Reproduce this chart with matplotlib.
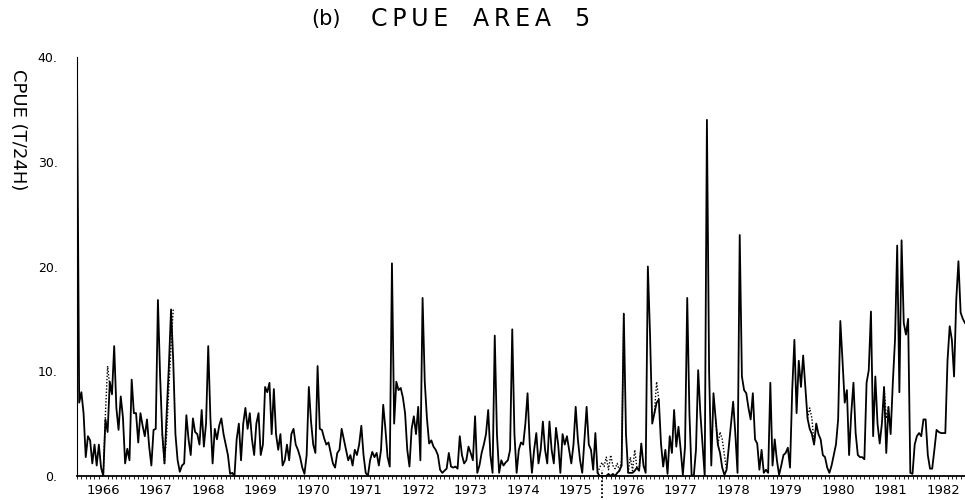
import numpy as np
import matplotlib
matplotlib.use("Agg")
import matplotlib.pyplot as plt
from matplotlib.transforms import blended_transform_factory

# CPUE (t/24h), area 5 -- half-monthly values
y1966 = [38.5, 7.0, 8.0, 6.0, 1.8, 3.8, 3.4, 1.2, 3.0, 1.0, 3.0, 0.8, 0.0, 5.4, 4.2, 9.0, 7.8, 12.4, 6.5, 4.4, 7.6, 5.6, 1.2, 2.6]
y1967 = [1.5, 9.2, 6.0, 6.0, 3.2, 6.0, 4.8, 3.8, 5.4, 2.8, 1.0, 4.4, 4.5, 16.8, 9.5, 4.0, 1.2, 6.0, 10.5, 15.9, 11.0, 4.0, 1.5, 0.4]
y1968 = [1.0, 1.2, 5.8, 3.5, 2.0, 5.5, 4.2, 4.0, 3.0, 6.3, 2.8, 5.0, 12.4, 5.5, 1.2, 4.5, 3.5, 4.8, 5.5, 4.0, 3.0, 2.0, 0.2, 0.3]
y1969 = [0.0, 3.5, 5.0, 1.5, 5.0, 6.5, 4.5, 6.0, 3.5, 2.0, 5.0, 6.0, 2.0, 3.0, 8.5, 8.0, 8.9, 4.0, 8.3, 4.0, 2.5, 4.0, 1.0, 1.5]
y1970 = [3.0, 1.5, 4.0, 4.5, 3.0, 2.5, 1.8, 0.8, 0.2, 2.0, 8.5, 5.2, 3.0, 2.2, 10.5, 4.5, 4.4, 3.6, 3.0, 3.2, 2.2, 1.2, 0.8, 2.2]
y1971 = [2.5, 4.5, 3.5, 2.5, 1.5, 2.0, 1.0, 2.5, 2.0, 3.0, 4.8, 2.0, 0.3, 0.0, 1.5, 2.3, 1.8, 2.2, 1.0, 2.5, 6.8, 4.5, 1.8, 0.9]
y1972 = [20.3, 5.0, 9.0, 8.2, 8.4, 7.5, 6.0, 2.5, 0.9, 4.5, 5.7, 4.0, 6.6, 1.5, 17.0, 9.0, 5.5, 3.1, 3.4, 2.8, 2.5, 2.0, 0.6, 0.3]
y1973 = [0.5, 0.7, 2.2, 0.9, 0.8, 0.9, 0.7, 3.8, 2.0, 1.2, 1.5, 2.8, 2.2, 1.5, 5.7, 0.3, 1.0, 2.2, 3.0, 4.0, 6.3, 2.0, 0.3, 13.4]
y1974 = [4.0, 0.3, 1.5, 1.0, 1.3, 1.5, 2.5, 14.0, 4.0, 0.3, 2.5, 3.2, 3.0, 5.0, 7.9, 3.0, 0.3, 2.5, 4.1, 1.2, 2.5, 5.2, 2.5, 1.2]
y1975 = [5.2, 2.5, 1.2, 4.6, 3.0, 0.3, 4.0, 3.0, 3.8, 2.5, 1.2, 3.0, 6.6, 3.5, 1.5, 0.3, 3.5, 6.6, 3.0, 2.5, 0.6, 4.1, 0.3, 0.0]
y1976 = [0.0, 0.0, 0.0, 0.2, 0.0, 0.2, 0.0, 0.3, 0.5, 1.0, 15.5, 4.0, 0.3, 0.3, 0.3, 0.5, 0.8, 0.5, 3.1, 1.0, 0.3, 20.0, 13.5, 5.0]
y1977 = [6.0, 7.0, 7.3, 3.1, 0.9, 2.5, 0.2, 3.8, 2.2, 6.3, 2.8, 4.7, 2.5, 0.1, 2.8, 17.0, 6.0, 0.1, 0.0, 2.5, 10.1, 6.0, 3.0, 0.0]
y1978 = [34.0, 10.0, 1.0, 7.9, 5.4, 3.0, 2.2, 0.8, 0.1, 0.6, 2.8, 5.0, 7.1, 4.0, 0.3, 23.0, 9.5, 8.2, 7.9, 6.5, 5.4, 7.9, 3.5, 3.1]
y1979 = [0.6, 2.5, 0.3, 0.6, 0.3, 8.9, 1.0, 3.5, 1.5, 0.1, 1.0, 2.0, 2.2, 2.7, 0.8, 8.2, 13.0, 6.0, 11.0, 8.5, 11.5, 8.5, 5.5, 4.5]
y1980 = [4.0, 3.0, 5.0, 4.0, 3.5, 2.0, 1.8, 0.8, 0.3, 1.0, 2.0, 3.0, 5.4, 14.8, 11.0, 7.0, 8.2, 2.0, 6.0, 8.9, 4.1, 2.0, 1.8, 1.8]
y1981 = [1.6, 8.9, 10.1, 15.7, 3.8, 9.5, 5.0, 3.1, 5.0, 8.5, 2.2, 6.6, 4.0, 8.9, 13.0, 22.0, 8.0, 22.5, 14.6, 13.5, 15.0, 0.3, 0.2, 3.0]
y1982 = [3.8, 4.1, 3.8, 5.4, 5.4, 2.0, 0.7, 0.7, 2.5, 4.4, 4.2, 4.1, 4.1, 4.1, 11.0, 14.3, 13.0, 9.5, 16.8, 20.5, 15.6, 15.0, 14.6]

# second (dotted) series, only where it departs from the solid one
dot_a_start, dot_a = 1966 + 12/24, [0.0, 6.0, 10.5, 8.5, 7.8]
dot_b_start, dot_b = 1967 + 15/24, [4.0, 1.2, 4.0, 8.5, 12.4, 15.9]
dot_c_start, dot_c = 1975 + 22/24, [0.3, 0.8, 1.3, 0.9, 1.8, 0.6, 2.0, 1.0, 0.7, 1.2, 0.5, 1.5, 15.5]
dot_d_start, dot_d = 1976 + 12/24, [0.3, 1.8, 0.5, 2.5, 0.8, 0.5, 3.1]
dot_e_start, dot_e = 1977 + 0/24, [6.0, 9.0, 7.3]
dot_f_start, dot_f = 1978 + 4/24, [5.4, 3.0, 4.2, 3.5, 2.0, 0.6]
dot_g_start, dot_g = 1979 + 22/24, [5.5, 6.5, 5.5, 3.0, 5.0]
dot_h_start, dot_h = 1981 + 9/24, [8.5, 5.5, 6.6]

years = list(range(1966, 1983))
year_labels = [str(y) for y in years]
ytick_vals = [0, 10, 20, 30, 40]
ytick_labels = ["0.", "10.", "20.", "30.", "40."]
title_parts = ["(b)", "CPUE", "AREA", "5"]
per_year = 24

solid = np.concatenate([y1966, y1967, y1968, y1969, y1970, y1971, y1972, y1973,
                        y1974, y1975, y1976, y1977, y1978, y1979, y1980, y1981, y1982])
t = years[0] + np.arange(len(solid)) / per_year

fig = plt.figure(figsize=(9.65, 5.0), dpi=100)
ax = fig.add_axes([77/965, 24/500, 888/965, 419/500])

for start, vals in [(dot_a_start, dot_a), (dot_b_start, dot_b), (dot_c_start, dot_c),
                    (dot_d_start, dot_d), (dot_e_start, dot_e), (dot_f_start, dot_f),
                    (dot_g_start, dot_g), (dot_h_start, dot_h)]:
    ax.plot(start + np.arange(len(vals)) / per_year, vals, color="black",
            lw=1.0, ls=(0, (1, 1.3)))
ax.plot(t, solid, color="black", lw=1.3)

ax.set_xlim(1966, 1966 + 888/52.5)
ax.set_ylim(0, 40)

for s in ["top", "right"]:
    ax.spines[s].set_visible(False)
ax.spines["left"].set_linewidth(0.8)
ax.spines["bottom"].set_linewidth(1.3)

ax.set_yticks(ytick_vals)
ax.set_yticklabels(ytick_labels, fontsize=9)
ax.tick_params(axis="y", length=0, pad=14)

ax.set_xticks([y + 0.5 for y in years])
ax.set_xticklabels(year_labels, fontsize=9.5)
ax.set_xticks(np.arange(1966, 1983, 1/12), minor=True)
ax.tick_params(axis="x", which="major", length=0, pad=6)
ax.tick_params(axis="x", which="minor", length=2.5, width=0.6, direction="out")

# separator between 1975 and 1976
trans = blended_transform_factory(ax.transData, ax.transAxes)
ax.plot([1976, 1976], [-0.052, 0.015], transform=trans, color="black",
        lw=1.3, ls=(0, (1, 1.2)), clip_on=False)

fig.text(18/965, 1 - 130/500, "CPUE (T/24H)", rotation=-90, fontsize=13,
         ha="center", va="center")

title_x = [326, 410, 512, 582]
title_size = [15, 17, 17, 17]
for part, xp, fs in zip(title_parts, title_x, title_size):
    spaced = "\u2009".join(part) if len(part) > 1 and part[0] != "(" else part
    fig.text(xp/965, 1 - 19/500, spaced, fontsize=fs, ha="center", va="center")

fig.savefig("out.png", dpi=100)
